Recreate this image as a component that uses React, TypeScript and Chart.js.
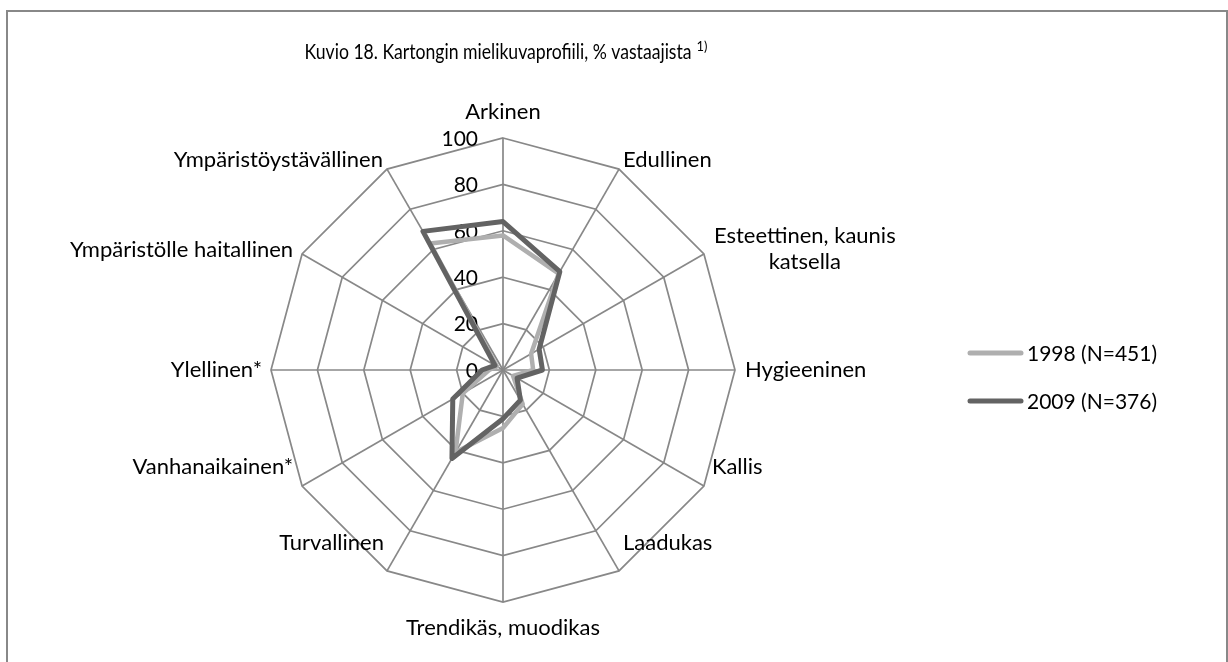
import React, { useEffect, useRef } from "react";
import { Chart, registerables } from "chart.js";

Chart.register(...registerables);

const categories: (string | string[])[] = [
  "Arkinen",
  "Edullinen",
  ["Esteettinen, kaunis", "katsella"],
  "Hygieeninen",
  "Kallis",
  "Laadukas",
  "Trendikäs, muodikas",
  "Turvallinen",
  "Vanhanaikainen*",
  "Ylellinen*",
  "Ympäristölle haitallinen",
  "Ympäristöystävällinen",
];

const series1998 = [58, 48, 14, 13, 5, 17, 25, 41, 20, 6, 3, 63];
const series2009 = [64, 49, 18, 17, 7, 15, 21, 44, 25, 9, 4, 69];
const seriesNames = ["1998 (N=451)", "2009 (N=376)"];
const tickValues = [0, 20, 40, 60, 80, 100];
const titleText = "Kuvio 18. Kartongin mielikuvaprofiili, % vastaajista";
const titleNote = "1)";

const FONT = "Lato, 'Open Sans', sans-serif";
const LIGHT = "#afafaf";
const DARK = "#636363";
const GRID = "#888888";

// label placement relative to the outer vertex (layout only)
const labelOffsets: [number, number][] = [
  [0, -26], [4, -9], [10, -5], [10, 0], [8, -19], [4, -28],
  [0, 26], [-3, -28], [-9, -19], [-9, 0], [-9, -4], [-4, -9],
];

const overlayPlugin = {
  id: "overlay",
  beforeDatasetsDraw(chart: any) {
    const ctx = chart.ctx;
    const scale = chart.scales.r;
    ctx.save();
    ctx.fillStyle = "#000";
    ctx.font = `21px ${FONT}`;
    ctx.textAlign = "right";
    ctx.textBaseline = "middle";
    tickValues.forEach((v) => {
      const p = scale.getPointPositionForValue(0, v);
      ctx.fillText(String(v), scale.xCenter - 25, p.y + 1);
    });
    ctx.restore();
  },
  afterDraw(chart: any) {
    const ctx = chart.ctx;
    const scale = chart.scales.r;
    ctx.save();
    ctx.fillStyle = "#000";
    ctx.textBaseline = "middle";
    ctx.font = `22px ${FONT}`;
    const n = categories.length;
    const lineH = 26;
    for (let i = 0; i < n; i++) {
      const vtx = scale.getPointPosition(i, scale.drawingArea);
      const [dx, dy] = labelOffsets[i];
      const ax = vtx.x + dx;
      const ay = vtx.y + dy;
      const lines = Array.isArray(categories[i]) ? (categories[i] as string[]) : [categories[i] as string];
      const widths = lines.map((l) => ctx.measureText(l).width);
      const bw = Math.max(...widths);
      let left: number;
      if (i === 0 || i === n / 2) left = ax - bw / 2;
      else if (i < n / 2) left = ax;
      else left = ax - bw;
      const top = ay - ((lines.length - 1) * lineH) / 2;
      ctx.textAlign = "center";
      lines.forEach((l, k) => ctx.fillText(l, left + bw / 2, top + k * lineH));
    }

    // title
    const mainW = 387;
    ctx.font = `21px ${FONT}`;
    const natW = ctx.measureText(titleText).width;
    const tw = Math.min(mainW, natW);
    const gap = 5;
    ctx.font = `14px ${FONT}`;
    const nw = ctx.measureText(titleNote).width * 0.92;
    const tx = scale.xCenter + 3 - (tw + gap + nw) / 2;
    ctx.textAlign = "left";
    ctx.font = `21px ${FONT}`;
    ctx.fillText(titleText, tx, 52, mainW);
    ctx.font = `14px ${FONT}`;
    ctx.fillText(titleNote, tx + tw + gap, 46, nw);

    // legend
    const colors = [LIGHT, DARK];
    const ys = [353, 401];
    ctx.font = `21px ${FONT}`;
    ctx.lineCap = "round";
    seriesNames.forEach((name, k) => {
      ctx.strokeStyle = colors[k];
      ctx.lineWidth = 5;
      ctx.beginPath();
      ctx.moveTo(970, ys[k]);
      ctx.lineTo(1021, ys[k]);
      ctx.stroke();
      ctx.fillStyle = "#000";
      ctx.fillText(name, 1027, ys[k] + 1);
    });
    ctx.restore();
  },
};

export default function App() {
  const canvasRef = useRef<HTMLCanvasElement | null>(null);

  useEffect(() => {
    const canvas = canvasRef.current;
    if (!canvas) return;
    const chart = new Chart(canvas, {
      type: "radar",
      data: {
        labels: categories as any,
        datasets: [
          {
            label: seriesNames[0],
            data: series1998,
            borderColor: LIGHT,
            backgroundColor: LIGHT,
            borderWidth: 4.5,
            fill: false,
            pointRadius: 0,
            pointHoverRadius: 0,
            borderJoinStyle: "round",
            order: 1,
          },
          {
            label: seriesNames[1],
            data: series2009,
            borderColor: DARK,
            backgroundColor: DARK,
            borderWidth: 5,
            fill: false,
            pointRadius: 0,
            pointHoverRadius: 0,
            borderJoinStyle: "round",
            order: 0,
          },
        ],
      },
      options: {
        responsive: false,
        animation: false,
        devicePixelRatio: 1,
        layout: { padding: { left: 0, right: 222, top: 138, bottom: 60 } },
        plugins: {
          legend: { display: false },
          title: { display: false },
          tooltip: { enabled: false },
        },
        elements: { line: { tension: 0 } },
        scales: {
          r: {
            min: 0,
            max: 100,
            beginAtZero: true,
            ticks: { display: false, stepSize: 20 },
            pointLabels: { display: false },
            grid: { color: GRID, lineWidth: 1.7, circular: false },
            angleLines: { color: GRID, lineWidth: 1.7 },
          },
        },
      },
      plugins: [overlayPlugin],
    });
    return () => chart.destroy();
  }, []);

  return (
    <div style={{ position: "fixed", left: 0, top: 0, width: 1228, height: 662, overflow: "hidden", background: "#fff" }}>
      <div
        style={{
          position: "absolute",
          left: 6,
          top: 10,
          width: 1222,
          height: 720,
          border: `2px solid ${GRID}`,
          boxSizing: "border-box",
        }}
      />
      <canvas
        ref={canvasRef}
        width={1228}
        height={662}
        style={{ position: "absolute", left: 0, top: 0, width: 1228, height: 662 }}
      />
    </div>
  );
}
